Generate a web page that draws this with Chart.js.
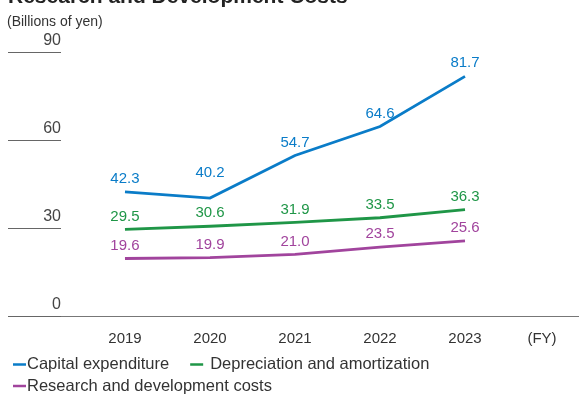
<!DOCTYPE html>
<html>
<head>
<meta charset="utf-8">
<script src="https://cdn.jsdelivr.net/npm/chart.js@4"></script>
<style>
  html, body { margin: 0; padding: 0; background: #fff; }
  #wrap { position: relative; width: 579px; height: 394px; }
</style>
</head>
<body>
<div id="wrap"><canvas id="c"></canvas></div>
<script>
// values
const years = [2019, 2020, 2021, 2022, 2023];
const capex = [42.3, 40.2, 54.7, 64.6, 81.7];
const depreciation = [29.5, 30.6, 31.9, 33.5, 36.3];
const rdCosts = [19.6, 19.9, 21.0, 23.5, 25.6];
const yTicks = [0, 30, 60, 90];
const fyLabel = '(FY)';
const seriesNames = ['Capital expenditure', 'Depreciation and amortization', 'Research and development costs'];
const seriesColors = ['#0a7cc8', '#1f9647', '#a1449d'];

const FONT = '"Liberation Sans", Arial, Helvetica, sans-serif';
const FY_POS = 2023.906;

function pts(vals) { return vals.map((v, i) => ({ x: years[i], y: v })); }

const textPlugin = {
  id: 'texts',
  afterDatasetsDraw(chart) {
    const ctx = chart.ctx;
    const y = chart.scales.y;
    ctx.save();

    // title (cut at top) and unit
    ctx.fillStyle = '#222';
    ctx.font = 'bold 21px ' + FONT;
    ctx.textAlign = 'left';
    ctx.textBaseline = 'alphabetic';
    ctx.fillText('Research and Development Costs', 8, 3);
    ctx.fillStyle = '#333';
    ctx.font = '14px ' + FONT;
    ctx.fillText('(Billions of yen)', 7, 26);

    // y ticks: short rule with label above it
    ctx.font = '16px ' + FONT;
    ctx.textAlign = 'right';
    ctx.textBaseline = 'middle';
    yTicks.forEach(t => {
      const py = Math.round(y.getPixelForValue(t)) + 0.5;
      ctx.strokeStyle = '#666';
      ctx.lineWidth = 1;
      ctx.beginPath();
      ctx.moveTo(8, py);
      ctx.lineTo(61, py);
      ctx.stroke();
      ctx.fillStyle = '#444';
      ctx.fillText(String(t), 61, py - 12);
    });

    // value labels above points
    ctx.font = '15px ' + FONT;
    ctx.textAlign = 'center';
    chart.data.datasets.forEach((ds, di) => {
      const meta = chart.getDatasetMeta(di);
      ctx.fillStyle = ds.borderColor;
      meta.data.forEach((p, i) => {
        const off = (di === 0 && i === 1) ? 25 : 13;
        ctx.fillText(ds.data[i].y.toFixed(1), p.x, p.y - off);
      });
    });

    // legend
    ctx.font = '16.5px ' + FONT;
    ctx.textAlign = 'left';
    ctx.textBaseline = 'middle';
    const rows = [[0, 1], [2]];
    rows.forEach((row, r) => {
      const ly = 364.5 + r * 21.5;
      let x = 13;
      row.forEach((di, k) => {
        const ds = chart.data.datasets[di];
        if (k > 0) x += 21;
        ctx.strokeStyle = ds.borderColor;
        ctx.lineWidth = 2.5;
        ctx.beginPath();
        ctx.moveTo(x, ly);
        ctx.lineTo(x + 13, ly);
        ctx.stroke();
        const tx = x + (k > 0 ? 20 : 14);
        ctx.fillStyle = '#333';
        ctx.fillText(ds.label, tx, ly);
        x = tx + ctx.measureText(ds.label).width;
      });
    });
    ctx.restore();
  }
};

new Chart(document.getElementById('c'), {
  type: 'line',
  data: {
    datasets: [capex, depreciation, rdCosts].map((vals, i) => ({
      label: seriesNames[i],
      data: pts(vals),
      borderColor: seriesColors[i],
      backgroundColor: seriesColors[i],
      borderWidth: 2.8,
      pointRadius: 0,
      tension: 0,
      fill: false
    }))
  },
  options: {
    responsive: true,
    maintainAspectRatio: false,
    animation: false,
    devicePixelRatio: 1,
    layout: { padding: { left: 8, right: 0, top: 52, bottom: 32 } },
    plugins: { legend: { display: false }, tooltip: { enabled: false } },
    scales: {
      x: {
        type: 'linear',
        min: 2017.624,
        max: 2024.341,
        grid: { display: false, drawTicks: false },
        border: { display: true, color: '#777', width: 1 },
        afterBuildTicks: scale => {
          scale.ticks = years.map(v => ({ value: v })).concat([{ value: FY_POS }]);
        },
        ticks: {
          autoSkip: false,
          maxRotation: 0,
          padding: 14,
          color: '#333',
          font: { family: FONT, size: 15 },
          callback: v => (v > 2023.5 ? fyLabel : String(v))
        }
      },
      y: {
        display: false,
        min: 0,
        max: 90
      }
    }
  },
  plugins: [textPlugin]
});
</script>
</body>
</html>
